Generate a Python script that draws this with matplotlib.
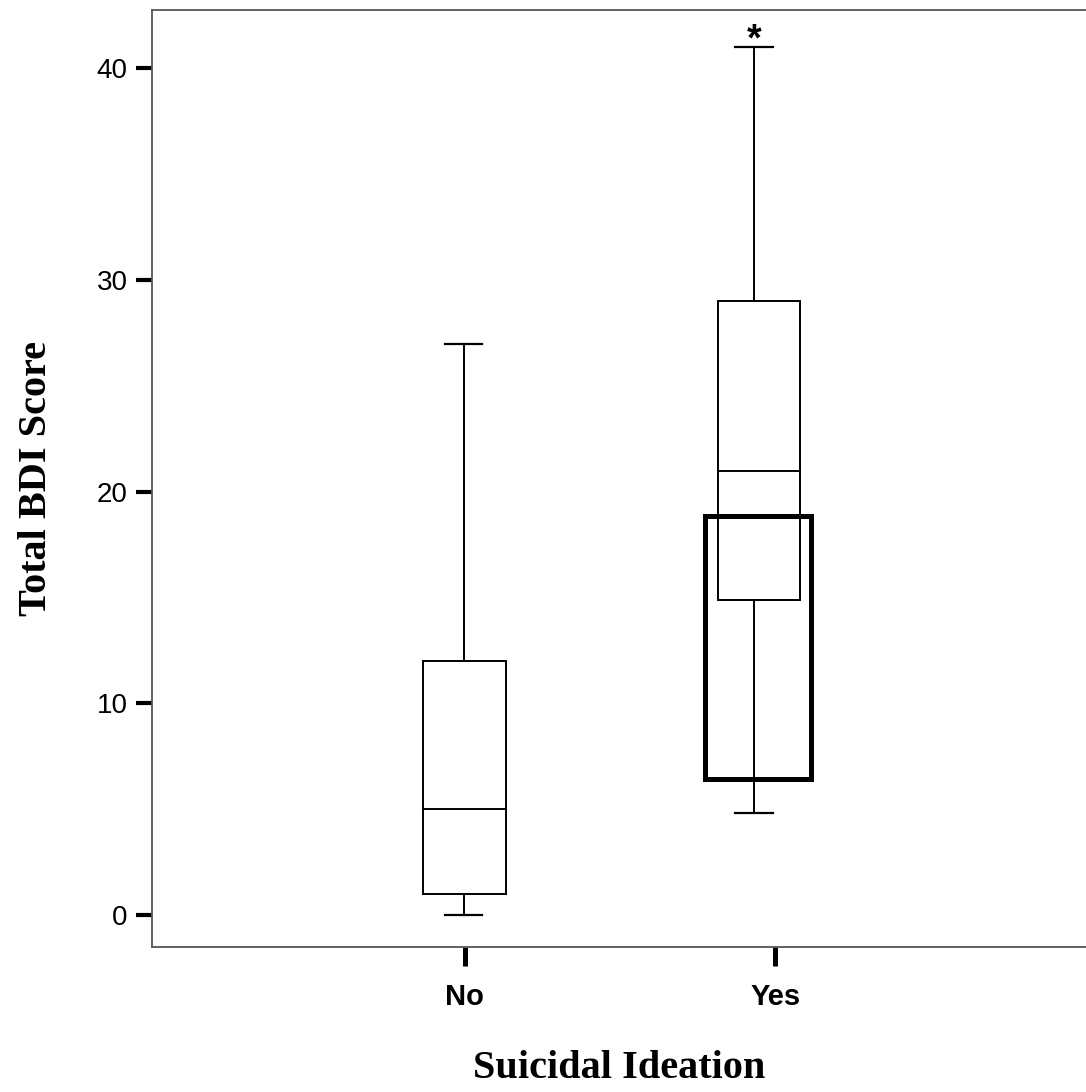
import matplotlib.pyplot as plt
from matplotlib.patches import Rectangle

# group labels and box statistics
groups = ['No', 'Yes']
whisker_low = [0, 4.85]
q1 = [1, 14.9]
medians = [5, 21]
q3 = [12, 29]
whisker_high = [27, 41]
outliers = [[], [41.65]]

# extra thick rectangle drawn over the Yes group
rect_low, rect_high = 6.45, 18.87

box_pos = [1.0, 1.947]
whisk_pos = [0.997, 1.931]
box_w = 0.265
cap_w = 0.12

fig = plt.figure(figsize=(10.86, 10.92), dpi=100)
ax = fig.add_axes([0.14, 0.1328, 0.86, 0.858])

for i in range(len(groups)):
    b = box_pos[i]
    w = whisk_pos[i]
    ax.add_patch(Rectangle((b - box_w / 2, q1[i]), box_w, q3[i] - q1[i],
                           fill=False, edgecolor='black', lw=1.4, zorder=3))
    ax.plot([b - box_w / 2, b + box_w / 2], [medians[i], medians[i]], color='black', lw=1.4, zorder=3)
    ax.plot([w, w], [q3[i], whisker_high[i]], color='black', lw=1.4, zorder=3)
    ax.plot([w, w], [whisker_low[i], q1[i]], color='black', lw=1.4, zorder=3)
    for v in (whisker_low[i], whisker_high[i]):
        ax.plot([w - cap_w / 2, w + cap_w / 2], [v, v], color='black', lw=1.6, zorder=3)
    for o in outliers[i]:
        ax.annotate('*', (w, o), xytext=(0, -5), textcoords='offset points',
                    ha='center', va='center', fontsize=27, fontweight='bold',
                    family='Liberation Sans')

ax.add_patch(Rectangle((1.773, rect_low), 2.114 - 1.773, rect_high - rect_low,
                       fill=False, edgecolor='black', lw=3.6, zorder=4))

ax.set_xlim(-0.006, 3.0)
ax.set_ylim(-1.5, 42.75)
ax.set_xticks([1, 2])
ax.set_xticklabels(groups, fontsize=21, fontweight='bold', family='Liberation Sans')
ax.set_yticks([0, 10, 20, 30, 40])
ax.set_yticklabels(['0', '10', '20', '30', '40'], fontsize=20, family='Liberation Sans')
ax.tick_params(axis='y', length=11.5, width=3, pad=6)
ax.tick_params(axis='x', length=14, width=3.6, pad=12)

for s in ['top', 'left', 'bottom']:
    ax.spines[s].set_color('#555555')
    ax.spines[s].set_linewidth(1.3)
ax.spines['right'].set_visible(False)

ax.set_ylabel('Total BDI Score', fontsize=29, fontweight='bold', family='Liberation Serif', labelpad=30)
ax.set_xlabel('Suicidal Ideation', fontsize=29, fontweight='bold', family='Liberation Serif', labelpad=28)

fig.savefig('out.png', dpi=100)
